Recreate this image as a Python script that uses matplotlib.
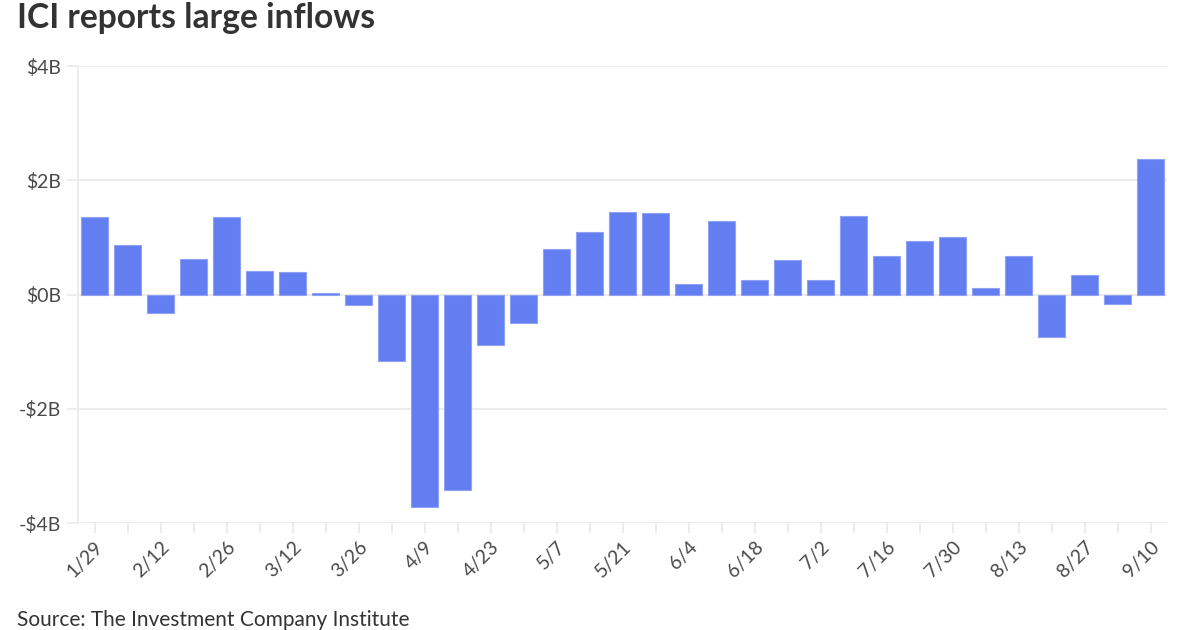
import matplotlib
matplotlib.use("Agg")
import matplotlib.pyplot as plt
import numpy as np

plt.rcParams['font.family'] = ['Lato', 'DejaVu Sans']

# weekly flows, billions of dollars
weeks = ['1/29', '2/5', '2/12', '2/19', '2/26', '3/5', '3/12', '3/19', '3/26',
         '4/2', '4/9', '4/16', '4/23', '4/30', '5/7', '5/14', '5/21', '5/28',
         '6/4', '6/11', '6/18', '6/25', '7/2', '7/9', '7/16', '7/23', '7/30',
         '8/6', '8/13', '8/20', '8/27', '9/3', '9/10']
flows = [1.35, 0.86, -0.32, 0.63, 1.35, 0.42, 0.39, 0.02, -0.18,
         -1.16, -3.72, -3.42, -0.88, -0.49, 0.79, 1.10, 1.44, 1.43,
         0.18, 1.28, 0.25, 0.61, 0.25, 1.37, 0.67, 0.93, 1.00,
         0.12, 0.67, -0.74, 0.35, -0.16, 2.38]
y_ticks = [-4, -2, 0, 2, 4]
y_labels = ['-$4B', '-$2B', '$0B', '$2B', '$4B']

bar_color = '#637ef0'
grid_color = '#ebebeb'
text_color = '#4a4a4a'

fig = plt.figure(figsize=(12, 6.3), dpi=100)
ax = fig.add_axes([0.065, 0.1698, 0.9075, 0.7254])

x = np.arange(len(weeks))
ax.bar(x, flows, width=0.8, color=bar_color, edgecolor='#8fa2f3',
       linewidth=0.8, zorder=3)

ax.set_xlim(-0.5, len(weeks) - 0.5)
ax.set_ylim(-4, 4)
ax.set_yticks(y_ticks)
ax.set_yticklabels(y_labels)
ax.yaxis.grid(True, color=grid_color, linewidth=1.3, zorder=0)

ax.set_xticks(x)
ax.set_xticklabels([w if i % 2 == 0 else '' for i, w in enumerate(weeks)],
                   rotation=45, ha='right', rotation_mode='anchor')

for s in ['top', 'right', 'bottom']:
    ax.spines[s].set_visible(False)
ax.spines['left'].set_color(grid_color)
ax.spines['left'].set_linewidth(1.3)

ax.tick_params(axis='y', length=8, color=grid_color, labelsize=14,
               labelcolor=text_color, pad=4, width=1.3)
ax.tick_params(axis='x', length=7, color=grid_color, labelsize=14,
               labelcolor=text_color, pad=4, width=1.3)

fig.text(0.014, 0.997, 'ICI reports large inflows', fontsize=24.2,
         fontweight='bold', color='#333333', ha='left', va='top')
fig.text(0.014, 0.0, 'Source: The Investment Company Institute',
         fontsize=15, color='#333333', ha='left', va='bottom')

fig.savefig('out.png', dpi=100)
